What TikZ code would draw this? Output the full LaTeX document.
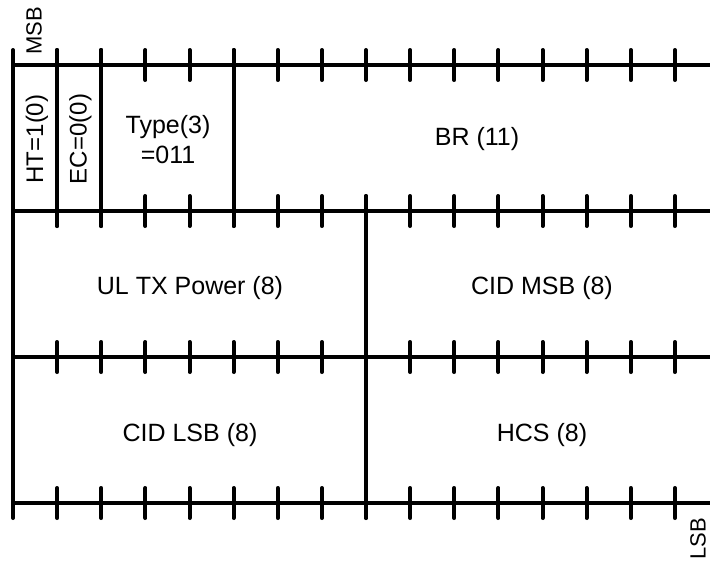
\documentclass[tikz,border=0pt]{standalone}
\usepackage{fontspec}
\setmainfont{Liberation Sans}
\begin{document}
\begin{tikzpicture}[x=1pt,y=-1pt,
  rule/.style={line width=4pt},
  tick/.style={line width=4pt,line cap=round},
  lbl/.style={font=\fontsize{25}{30}\selectfont,inner sep=0pt,align=center},
  rlbl/.style={font=\fontsize{24}{28}\selectfont,inner sep=0pt,rotate=90},
  edge/.style={font=\fontsize{22}{26}\selectfont,inner sep=0pt,rotate=90}]
\useasboundingbox (0,0) rectangle (710,562);
\begin{scope}
\clip (0,0) rectangle (710,562);
% horizontal rules
\foreach \y/\n in {65/a,211/b,357/c,503/d}{
  \coordinate (L\n) at (13,\y);
  \coordinate (R\n) at (722,\y);
  \draw[rule] (L\n) -- (R\n);
  \foreach \i in {1,...,15}{
    \coordinate (t\n\i) at ({13+\i*44.125},\y);
    \draw[tick] ([yshift=-15pt]t\n\i) -- ([yshift=15pt]t\n\i);
  }
}
% left border
\coordinate (lt) at (13,50);
\coordinate (lb) at (13,518);
\draw[tick] (lt) -- (lb);
% top row field separators
\foreach \i in {1,2,5}{
  \coordinate (vt\i) at ({13+\i*44.125},50);
  \coordinate (vb\i) at ({13+\i*44.125},226);
  \draw[tick] (vt\i) -- (vb\i);
}
% middle separator
\coordinate (mt) at (366,196);
\coordinate (mb) at (366,518);
\draw[tick] (mt) -- (mb);
\end{scope}
% labels
\node[edge] (msb) at (34,31) {MSB};
\node[edge] (lsb) at (698,539) {LSB};
\node[rlbl] (ht) at (37,139) {HT=1(0)};
\node[rlbl] (ec) at (80.5,139) {EC=0(0)};
\node[lbl] (type) at (168,140) {Type(3)\\=011};
\node[lbl] (br) at (477,139) {BR (11)};
\node[lbl] (ul) at (190,288) {UL TX Power (8)};
\node[lbl] (cm) at (542,288) {CID MSB (8)};
\node[lbl] (cl) at (190,435) {CID LSB (8)};
\node[lbl] (hcs) at (542,435) {HCS (8)};
\end{tikzpicture}
\end{document}
